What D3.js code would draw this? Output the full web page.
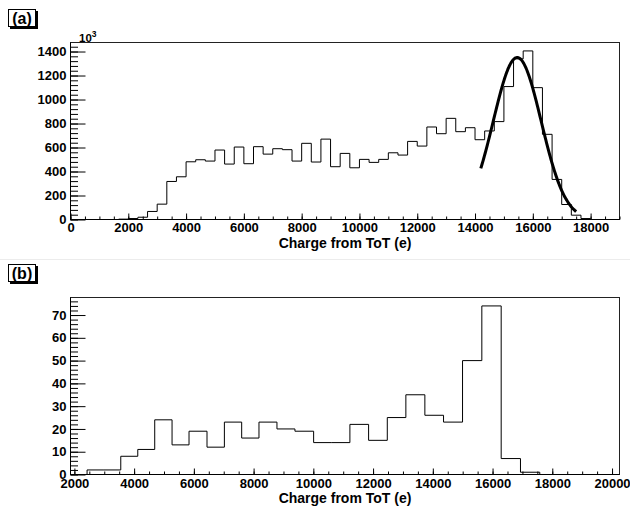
<!DOCTYPE html>
<html>
<head>
<meta charset="utf-8">
<script src="https://cdn.jsdelivr.net/npm/d3@7"></script>
<style>
  body { margin: 0; background: #fff; }
  svg text { font-family: "Liberation Sans", Arial, Helvetica, sans-serif; font-weight: bold; fill: #000; }
</style>
</head>
<body>
<svg id="chart" width="630" height="508"></svg>
<script>
// ---- panel (a): 57 equal bins over 0..19000 e, counts in units of 10^3
const xRangeA = [0, 19000];
const countsA = [
    0, 0, 0, 0, 0, 3, 8, 19, 67, 128,
    317, 356, 481, 498, 487, 579, 462, 604, 465, 607,
    545, 590, 582, 487, 635, 479, 670, 440, 551, 431,
    501, 476, 501, 556, 537, 651, 612, 771, 715, 843,
    732, 765, 665, 738, 816, 1108, 1339, 1405, 1099, 710,
    334, 125, 36, 8, 0, 0, 0
];
// gaussian fit drawn over the peak
const fitAmp = 1350, fitMean = 15460, fitSigma = 830;
const fitRange = [14200, 17500];

// ---- panel (b): bins of unequal width (edges in e)
const edgesB = [
    2425, 2990, 3553, 4122, 4690, 5270, 5838, 6440, 7022, 7601,
    8180, 8782, 9384, 10010, 10619, 11224, 11850, 12476, 13098, 13734,
    14359, 14995, 15641, 16289, 16935, 17581
];
const countsB = [
    2, 2, 8, 11, 24, 13, 19, 12, 23, 16,
    23, 20, 19, 14, 14, 22, 15, 25, 35, 26,
    23, 50, 74, 7, 1
];
const xRangeB = [1870, 20250];

// tick labels
const xTicksA = d3.range(0, 18001, 2000);
const yTicksA = d3.range(0, 1401, 200);
const xTicksB = d3.range(2000, 20001, 2000);
const yTicksB = d3.range(0, 71, 10);

const svg = d3.select("#chart");

// faint pad separator
svg.append("line")
    .attr("x1", 0).attr("x2", 630)
    .attr("y1", 259.5).attr("y2", 259.5)
    .attr("stroke", "#ececec");

function drawPanel(p) {
    const x = d3.scaleLinear().domain(p.xDomain).range([p.left, p.right]);
    const y = d3.scaleLinear().domain([0, d3.max(p.counts) * 1.05]).range([p.bottom, p.top]);

    // panel tag with shadow
    svg.append("rect").attr("x", 10).attr("y", p.tagY + 2).attr("width", 28).attr("height", 18).attr("fill", "#000");
    svg.append("rect").attr("x", 8.5).attr("y", p.tagY + 0.5).attr("width", 27).attr("height", 17)
        .attr("fill", "#fff").attr("stroke", "#000");
    svg.append("text").attr("x", 22).attr("y", p.tagY + 14.5)
        .attr("text-anchor", "middle").style("font-size", "16px").text(p.tag);

    // frame
    svg.append("rect")
        .attr("x", p.left).attr("y", p.top)
        .attr("width", p.right - p.left).attr("height", p.bottom - p.top)
        .attr("fill", "none").attr("stroke", "#222");

    // histogram outline
    const pts = [];
    p.counts.forEach((c, i) => {
        pts.push([p.edges[i], c]);
        pts.push([p.edges[i + 1], c]);
    });
    pts.unshift([p.edges[0], 0]);
    pts.push([p.edges[p.edges.length - 1], 0]);
    const line = d3.line().x(d => x(d[0])).y(d => y(d[1]));
    svg.append("path").datum(pts)
        .attr("fill", "none").attr("stroke", "#000").attr("stroke-width", 1)
        .attr("d", line);

    // axes: ticks point inward like ROOT
    const xMinor = d3.range(Math.ceil(p.xDomain[0] / 500) * 500, p.xDomain[1] + 1, 500);
    const yMinor = d3.range(0, y.domain()[1], p.yMinorStep);

    const gxm = svg.append("g").attr("transform", `translate(0,${p.bottom})`)
        .call(d3.axisBottom(x).tickValues(xMinor).tickFormat("").tickSize(-3).tickSizeOuter(0));
    const gx = svg.append("g").attr("transform", `translate(0,${p.bottom})`)
        .call(d3.axisBottom(x).tickValues(p.xTicks).tickFormat(d3.format("d"))
            .tickSize(-6).tickSizeOuter(0).tickPadding(p.xPad));
    const gym = svg.append("g").attr("transform", `translate(${p.left},0)`)
        .call(d3.axisLeft(y).tickValues(yMinor).tickFormat("").tickSize(-7.5).tickSizeOuter(0));
    const gy = svg.append("g").attr("transform", `translate(${p.left},0)`)
        .call(d3.axisLeft(y).tickValues(p.yTicks).tickFormat(d3.format("d"))
            .tickSize(-15).tickSizeOuter(0).tickPadding(4));

    [gxm, gx, gym, gy].forEach(g => {
        g.select(".domain").remove();
        g.selectAll("line").attr("stroke", "#000");
        g.selectAll("text").style("font-size", "13px")
            .style("font-family", "'Liberation Sans', Arial, sans-serif").style("font-weight", "bold");
    });
    svg.append("line").attr("x1", p.left).attr("x2", p.right)
        .attr("y1", p.bottom).attr("y2", p.bottom).attr("stroke", "#000");
    svg.append("line").attr("x1", p.left).attr("x2", p.left)
        .attr("y1", p.top).attr("y2", p.bottom).attr("stroke", "#000");

    // axis title
    svg.append("text")
        .attr("x", (p.left + p.right) / 2).attr("y", p.bottom + p.titleOffset)
        .attr("text-anchor", "middle").style("font-size", "14px")
        .text("Charge from ToT (e)");

    return { x, y };
}

const edgesA = d3.range(countsA.length + 1).map(i => xRangeA[0] + i * (xRangeA[1] - xRangeA[0]) / countsA.length);

const a = drawPanel({
    tag: "(a)", tagY: 9, left: 70.5, right: 619.5, top: 42.5, bottom: 219.5,
    xDomain: xRangeA, edges: edgesA, counts: countsA, xPad: 3,
    xTicks: xTicksA, yTicks: yTicksA, yMinorStep: 40, titleOffset: 28
});

// exponent label
const expo = svg.append("text").attr("x", 79).attr("y", 41.5).style("font-size", "11.5px");
expo.append("tspan").text("10");
expo.append("tspan").attr("dy", -5).style("font-size", "8.5px").text("3");

// gaussian fit
const fitPts = d3.range(fitRange[0], fitRange[1] + 1, 25)
    .map(v => [v, fitAmp * Math.exp(-0.5 * Math.pow((v - fitMean) / fitSigma, 2))]);
svg.append("path").datum(fitPts)
    .attr("fill", "none").attr("stroke", "#000").attr("stroke-width", 3)
    .attr("d", d3.line().x(d => a.x(d[0])).y(d => a.y(d[1])).curve(d3.curveMonotoneX));

drawPanel({
    tag: "(b)", tagY: 264, left: 70.5, right: 619.5, top: 297.5, bottom: 474.5,
    xDomain: xRangeB, edges: edgesB, counts: countsB, xPad: 4.5,
    xTicks: xTicksB, yTicks: yTicksB, yMinorStep: 2, titleOffset: 28.5
});
</script>
</body>
</html>
